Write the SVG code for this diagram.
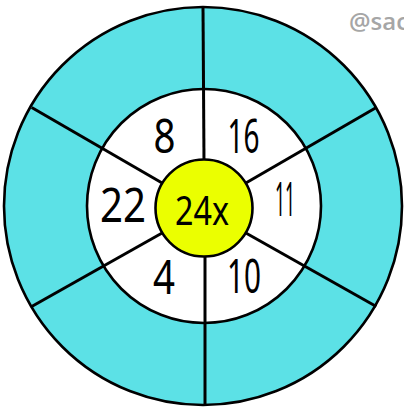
<svg xmlns="http://www.w3.org/2000/svg" width="404" height="407" viewBox="0 0 404 407">
<style>
.ring{stroke:#000;stroke-width:2.6}
.spoke{stroke:#000;stroke-width:3;stroke-linecap:butt}
.num{font-family:"Noto Sans","DejaVu Sans",sans-serif;font-size:48px;fill:#000;text-anchor:middle}
.ctr{font-family:"Noto Sans","DejaVu Sans",sans-serif;font-size:40px;fill:#000;text-anchor:middle}
.wm{font-family:"Open Sans","Liberation Sans",sans-serif;font-size:24px;font-weight:600;fill:#a6a6a6}
</style>
<rect width="404" height="407" fill="#fff"/>
<g id="outer-ring"><circle class="ring" cx="203" cy="206" r="199" fill="#5ce1e6"/></g>
<g id="middle-ring"><circle class="ring" cx="204" cy="206" r="117" fill="#fff"/></g>
<g id="connectors">
<line class="spoke" x1="203" y1="7" x2="204" y2="162"/>
<line class="spoke" x1="205" y1="254" x2="205" y2="405"/>
<line class="spoke" x1="31.7" y1="107.5" x2="163" y2="183.5"/>
<line class="spoke" x1="376.3" y1="107.5" x2="245" y2="183.5"/>
<line class="spoke" x1="31.7" y1="306.5" x2="163" y2="232.5"/>
<line class="spoke" x1="376.3" y1="306.5" x2="245" y2="232.5"/>
</g>
<g id="center"><circle class="ring" cx="204" cy="208" r="48.5" fill="#ebff00"/>
<text class="ctr" x="202" y="225" textLength="54" lengthAdjust="spacingAndGlyphs">24x</text></g>
<g id="n8"><text class="num" x="164.5" y="153" textLength="22" lengthAdjust="spacingAndGlyphs">8</text></g>
<g id="n16"><text class="num" x="243.5" y="153" textLength="32" lengthAdjust="spacingAndGlyphs">16</text></g>
<g id="n22"><text class="num" x="123" y="222" textLength="46" lengthAdjust="spacingAndGlyphs">22</text></g>
<g id="n11"><text class="num" x="285" y="216" textLength="20" lengthAdjust="spacingAndGlyphs">11</text></g>
<g id="n4"><text class="num" x="164" y="294" textLength="22" lengthAdjust="spacingAndGlyphs">4</text></g>
<g id="n10"><text class="num" x="244" y="293" textLength="34" lengthAdjust="spacingAndGlyphs">10</text></g>
<text class="wm" x="349" y="30">@sac</text>
</svg>
